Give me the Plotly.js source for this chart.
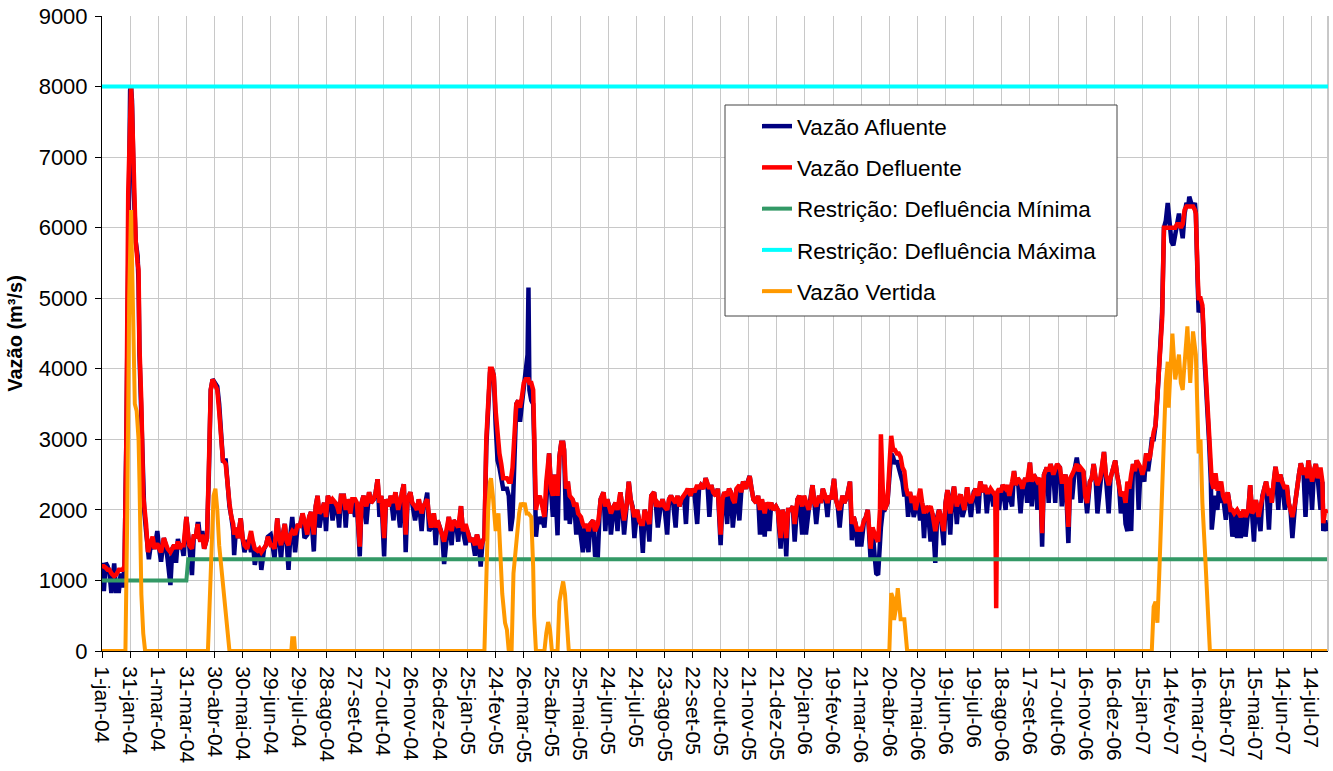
<!DOCTYPE html>
<html><head><meta charset="utf-8">
<script src="https://cdn.plot.ly/plotly-3.0.1.min.js"></script>
<style>html,body{margin:0;padding:0;background:#fff}#chart{width:1333px;height:771px}</style>
</head><body><div id="chart"></div>
<script>
// day offsets from 1-jan-2004
const days = [
0,2,4,6,8,10,13,15,18,20,
22,24,26,28,30,31,32,34,36,38,
39,40,42,44,45,47,49,50,52,54,
56,59,61,63,66,68,70,73,75,77,
79,81,83,85,87,90,93,96,98,100,
102,103,105,107,109,112,114,116,118,120,
123,125,127,129,132,134,136,138,140,141,
143,145,148,150,152,155,157,159,161,163,
166,168,170,173,175,177,180,182,184,187,
189,191,193,195,197,199,201,203,206,209,
211,214,216,219,221,223,226,228,230,232,
235,237,239,241,244,246,249,251,253,255,
258,260,262,265,267,270,272,275,277,279,
282,285,287,290,292,294,296,298,301,303,
306,308,311,313,316,318,320,322,324,326,
329,331,334,336,338,341,343,345,347,349,
351,354,356,358,361,363,365,368,370,373,
375,378,380,383,385,388,390,393,395,398,
400,402,404,406,408,410,412,414,416,418,
420,422,424,426,428,430,432,434,436,438,
440,442,444,446,448,450,452,454,455,456,
458,460,461,463,465,467,469,472,474,476,
477,479,481,483,486,488,490,492,493,495,
497,499,502,504,506,508,511,513,515,517,
519,521,524,526,529,531,532,535,537,539,
541,543,546,548,550,553,555,557,560,562,
564,566,568,571,573,575,577,579,582,584,
586,589,591,593,596,598,600,603,605,607,
609,612,614,616,618,621,623,625,628,630,
632,635,637,639,642,644,646,648,650,652,
655,657,660,662,664,667,669,671,673,675,
677,680,682,684,687,689,691,693,695,698,
700,702,704,707,709,712,714,716,719,721,
724,726,728,730,732,735,737,739,742,744,
747,749,751,754,756,758,760,762,765,767,
769,772,774,776,778,781,783,785,787,790,
792,795,798,800,802,804,806,808,810,813,
815,817,820,822,824,826,828,830,831,833,
835,838,840,842,844,846,848,850,852,854,
856,858,860,862,864,866,868,870,873,875,
877,879,881,884,886,889,891,893,895,898,
900,902,905,907,909,912,914,916,918,920,
923,925,927,930,932,935,937,940,942,944,
946,948,951,953,954,955,957,959,961,964,
966,968,971,973,975,977,980,982,985,987,
990,992,994,996,998,1001,1003,1005,1008,1010,
1012,1015,1017,1019,1022,1024,1026,1028,1031,1033,
1035,1038,1040,1042,1044,1047,1049,1051,1054,1056,
1058,1060,1062,1065,1067,1069,1071,1074,1076,1078,
1081,1083,1085,1087,1090,1092,1094,1096,1098,1100,
1102,1104,1106,1108,1110,1112,1114,1116,1118,1120,
1122,1124,1126,1128,1130,1131,1133,1135,1137,1139,
1141,1143,1145,1147,1149,1151,1153,1155,1157,1159,
1160,1162,1164,1166,1167,1169,1170,1172,1174,1176,
1177,1179,1181,1183,1184,1186,1188,1190,1192,1194,
1196,1199,1201,1204,1206,1208,1211,1213,1215,1218,
1220,1223,1225,1227,1229,1231,1234,1236,1238,1240,
1242,1245,1247,1248,1250,1252,1255,1257,1259,1262,
1264,1266,1268,1270,1273,1275,1277,1279,1282,1284,
1286,1287,1289,1291,1293,1295,1297,1300,1302,1303,
1305,1307];

const afluente = [
1250,850,1250,1200,1100,820,1240,850,850,1100,
900,1200,3000,6500,7950,8000,7800,6500,5800,5600,
5200,4200,3400,2300,2000,1700,1400,1300,1500,1500,
1450,1700,1450,1265,1600,1500,1300,935,1450,1500,
1250,1590,1450,1500,1350,1900,1500,1076,1650,1600,
1800,1800,1550,1700,1450,1600,2500,3700,3850,3800,
3750,3500,3100,2700,2700,2300,2050,1900,1700,1360,
1750,1600,1880,1600,1400,1550,1550,1400,1550,1220,
1420,1450,1150,1450,1500,1620,1650,1500,1300,1880,
1600,1300,1650,1800,1550,1150,1650,1900,1400,1800,
1750,1950,1600,1650,1900,1970,1410,2050,2200,1750,
2000,2100,1700,2200,2100,1850,2100,2050,1750,2200,
2200,1750,2150,1950,2150,1900,2100,1340,2100,2200,
1800,2250,2100,2150,2250,2435,1900,2200,1340,2150,
2050,2200,1850,2250,2000,1750,2250,2363,1400,2150,
2250,2100,1850,2000,2150,1700,2050,2100,2244,1700,
1750,1950,1500,1850,1700,1650,1232,1750,1900,1500,
1850,1800,1550,2054,1700,1500,1700,1550,1600,1350,
1650,1550,1198,1550,1600,2900,3500,3950,4000,3900,
3200,2700,2600,2450,2300,2300,2300,2200,1700,1900,
3000,3500,3550,3250,3500,3750,3850,4200,5150,3700,
3550,3500,3000,1620,1900,1800,1900,1750,2100,2600,
2800,2300,1900,2500,1640,2750,2950,2950,2850,1850,
2400,1800,2150,2050,1650,1950,1650,1400,1750,1500,
1400,1800,1850,1360,1350,2000,2150,2250,1700,2150,
2050,1650,2050,2100,1700,2250,2050,1650,2100,2400,
2150,2050,1600,2000,1850,1800,1390,2000,1850,1550,
2200,2250,2050,1750,2050,2150,2050,1650,2150,2200,
2150,1750,2200,2050,2150,2200,1800,2300,2200,2300,
2250,1800,2300,2350,2300,2450,2350,1900,2350,2250,
2200,2300,1500,2150,2250,1800,2300,2250,1750,2100,
2300,1850,2250,2400,2300,2400,2480,2300,2150,2100,
2200,1650,2150,1620,2100,1700,2100,2000,2050,2000,
1450,2000,1900,1340,2000,2000,2050,1550,2150,2200,
1650,2200,1650,2000,2150,2350,2100,1800,2200,2100,
2300,2150,1900,2200,2150,2440,2150,2050,1750,2200,
2100,2200,2400,1570,1900,1800,1480,1750,1480,1850,
1900,2000,1300,1750,1400,1100,1080,1700,1750,2000,
2000,2100,2400,2800,2750,2650,2700,2600,2550,2400,
2190,2300,1900,2250,2100,1900,2000,2150,1850,2100,
1600,2050,2000,1550,1950,1250,1900,2000,1900,1500,
2100,2280,1650,2200,2330,1800,2150,2220,1900,2000,
2320,2150,1900,2250,2300,1950,2400,2250,2350,1950,
2250,2300,2050,2200,2100,2250,2000,2250,2350,2000,
2350,2200,2050,2550,2350,2450,1950,2300,2450,2100,
2670,2050,2500,2450,2000,2450,1480,2500,2600,2100,
2650,2500,2100,2650,2600,2050,2400,2500,1530,2450,
2150,2600,2740,2550,2100,2550,2200,1950,2400,2450,
2650,2450,1950,2450,2600,2820,2500,1950,2450,2550,
2700,2500,2350,1950,2250,1800,1700,2300,1700,2650,
2550,2700,2000,2600,2500,2400,2800,2550,2750,3000,
3000,3200,3600,4000,4500,4800,6000,6100,6350,6000,
5800,5750,5950,6050,6200,5950,5850,6200,6350,6300,
6440,6350,6300,6350,6200,5200,4800,4900,4850,4200,
4000,3500,3000,2400,1720,2000,2200,2000,2400,2100,
2200,1860,2250,2000,1620,1950,1600,1950,1600,2000,
1620,2000,2350,1950,1550,2140,1900,1700,2200,2300,
2400,1720,2300,2100,2400,2610,2000,2500,2400,2000,
2350,2100,2000,1600,2100,2350,2500,2660,2500,1900,
2450,2700,2500,2000,2550,2650,2450,2000,2400,1700,
1850,1700];

const defluente = [
1200,1200,1180,1150,1150,1100,1060,1080,1150,1150,
1150,1200,3000,6500,7950,8000,7700,6400,5800,5500,
5400,4300,3500,2200,2100,1800,1400,1450,1550,1620,
1450,1525,1450,1400,1600,1500,1450,1400,1450,1500,
1450,1550,1450,1500,1500,1900,1500,1450,1650,1600,
1800,1650,1550,1650,1450,1600,2600,3700,3850,3800,
3700,3400,3130,2705,2650,2300,2090,1900,1800,1650,
1750,1600,1880,1600,1500,1450,1550,1700,1550,1450,
1420,1450,1400,1450,1500,1620,1500,1500,1450,1880,
1600,1500,1650,1800,1550,1500,1650,1700,1650,1800,
1750,1950,1850,1650,1900,1970,1650,2050,2200,1950,
2000,2100,1900,2200,2100,2150,2100,2050,1950,2200,
2200,2000,2150,1950,2150,2150,2100,1480,2100,2200,
2050,2250,2100,2150,2250,2435,2100,2200,1600,2150,
2050,2200,2100,2250,2000,2150,2250,2363,1650,2150,
2250,2100,2050,2000,2150,1950,2050,2100,2150,1900,
1750,1950,1750,1850,1700,1650,1550,1750,1900,1700,
1850,1800,1750,2054,1700,1800,1700,1550,1600,1500,
1650,1550,1450,1550,1600,3000,3600,4000,4000,3900,
3400,3000,2800,2650,2450,2450,2450,2400,2400,2600,
3000,3500,3550,3450,3600,3800,3850,3850,3850,3800,
3800,3700,3200,2000,2150,2200,2100,1900,2400,2710,
2800,2300,2200,2500,2200,2750,2950,2950,2850,2300,
2400,2200,2150,2050,2100,1950,1900,1800,1750,1800,
1700,1800,1850,1700,1800,2000,2150,2250,2050,2150,
2050,1950,2050,2100,2000,2250,2050,1850,2100,2400,
2150,2050,1900,2000,1850,1800,1800,2000,1850,1800,
2200,2250,2050,2100,2050,2150,2050,2000,2150,2200,
2150,2100,2200,2050,2150,2200,2250,2300,2200,2300,
2250,2350,2300,2350,2300,2450,2350,2300,2350,2250,
2200,2300,1650,2150,2250,2200,2300,2250,2150,2100,
2300,2350,2250,2400,2300,2400,2480,2300,2150,2100,
2200,2000,2150,1950,2100,2050,2100,2000,2050,2000,
1600,2000,1900,1600,2000,2000,2050,1800,2150,2200,
2050,2200,2100,2000,2150,2350,2100,2050,2200,2100,
2300,2150,2100,2200,2150,2440,2150,2050,2000,2200,
2100,2200,2400,1800,1900,1800,1700,1750,1700,1850,
1900,2000,1450,1750,1650,1600,1550,2000,3070,2300,
2000,2100,2600,3050,2850,2850,2800,2800,2750,2600,
2550,2300,2200,2250,2100,2200,2000,2150,2300,2100,
1950,2050,2000,2050,1950,1700,1900,2000,1900,1700,
2100,2280,1950,2200,2330,2050,2150,2220,2100,2000,
2320,2150,2100,2250,2300,2200,2400,2250,2350,2250,
2250,2300,2250,2200,605,2250,2300,2250,2350,2300,
2350,2200,2400,2550,2350,2450,2400,2300,2450,2400,
2670,2400,2500,2450,2400,2450,1670,2500,2600,2550,
2650,2500,2600,2650,2600,2400,2400,2500,1760,2450,
2500,2600,2650,2550,2600,2550,2200,2100,2400,2450,
2650,2450,2350,2450,2600,2820,2500,2350,2450,2550,
2700,2500,2350,2200,2250,2100,2400,2300,2500,2650,
2550,2700,2650,2600,2500,2600,2800,2700,2750,3000,
3100,3200,3600,4000,4500,4700,6000,6000,6000,6000,
6000,6000,6000,6050,6050,6000,6050,6250,6300,6300,
6300,6300,6300,6250,6200,5300,5000,5000,4900,4300,
4030,3500,3090,2600,2400,2300,2520,2300,2300,2400,
2200,2100,2250,2000,2000,1950,2000,1950,1900,2000,
1900,2000,2350,1950,2000,2140,1900,2050,2200,2300,
2400,2200,2300,2100,2400,2610,2400,2500,2400,2300,
2350,2100,2000,1900,2100,2350,2500,2660,2500,2600,
2450,2700,2500,2400,2550,2650,2450,2600,2400,1810,
2000,1950];

const vertidaDays = [
0,25,27,29,31,33,35,37,39,40,42,44,46,
113,115,117,119,121,123,125,127,129,131,133,134,136,
202,203,205,206,
408,410,412,414,415,417,420,423,425,427,430,432,434,
437,439,441,443,445,447,449,451,453,455,458,460,461,463,
472,474,476,478,480,
486,488,490,492,494,496,498,
840,842,844,845,847,849,851,852,856,859,
1120,1122,1124,1126,1128,1130,1131,1133,1135,1137,1138,1140,1142,1145,1147,1149,
1151,1153,1154,1156,1158,1161,1164,1167,1169,1170,1172,1174,1177,1179,1182,
1307];
const vertida = [
0,0,2000,5000,6250,5000,3500,3400,3000,2400,800,250,0,
0,800,1800,2200,2300,2000,1500,1200,900,720,300,150,0,
0,180,180,0,
0,1000,2000,2400,2450,2200,1700,1950,1400,815,400,300,0,
0,1100,1400,1800,1950,2100,2050,2100,1950,1950,1900,1200,500,0,
0,250,410,300,0,
0,700,850,985,800,300,0,
0,820,750,440,600,890,600,450,450,0,
0,630,700,400,1100,2000,2000,3000,3800,4100,3450,4000,4500,3850,4000,4200,
3800,3700,3900,4200,4600,3800,4530,4200,3230,2800,3000,2100,1340,870,0,
0];

const minDays = [0, 90, 92, 1307];
const minimo = [1000, 1000, 1300, 1300];
const maxDays = [0, 1308];
const maximo = [8000, 8000];

const tickLabels = ['1-jan-04','31-jan-04','1-mar-04','31-mar-04','30-abr-04','30-mai-04','29-jun-04','29-jul-04',
'28-ago-04','27-set-04','27-out-04','26-nov-04','26-dez-04','25-jan-05','24-fev-05','26-mar-05','25-abr-05',
'25-mai-05','24-jun-05','24-jul-05','23-ago-05','22-set-05','22-out-05','21-nov-05','21-dez-05','20-jan-06',
'19-fev-06','21-mar-06','20-abr-06','20-mai-06','19-jun-06','19-jul-06','18-ago-06','17-set-06','17-out-06',
'16-nov-06','16-dez-06','15-jan-07','14-fev-07','16-mar-07','15-abr-07','15-mai-07','14-jun-07','14-jul-07'];
const yTicks = [0,1000,2000,3000,4000,5000,6000,7000,8000,9000];
const seriesNames = ['Vazão Afluente','Vazão Defluente','Restrição: Defluência Mínima','Restrição: Defluência Máxima','Vazão Vertida'];
const seriesColors = ['#000080','#FF0000','#339966','#00FFFF','#FF9900'];

if (days.length !== afluente.length || days.length !== defluente.length || vertidaDays.length !== vertida.length) {
  throw new Error('length mismatch ' + days.length + ' ' + afluente.length + ' ' + defluente.length + ' ' + vertidaDays.length + ' ' + vertida.length);
}

function toDate(d) {
  return new Date(Date.UTC(2004, 0, 1) + d * 86400000).toISOString().slice(0, 10);
}
const tickVals = tickLabels.map((_, i) => toDate(i * 30));

const FONT = 'Arial, "Liberation Sans", sans-serif';
const xs = [days, days, minDays, maxDays, vertidaDays];
const ys = [afluente, defluente, minimo, maximo, vertida];
const widths = [4.5, 4.5, 4, 4, 4];

const traces = seriesNames.map((name, i) => ({
  type: 'scatter', mode: 'lines', name: name,
  x: xs[i].map(toDate), y: ys[i],
  line: {color: seriesColors[i], width: widths[i]},
  legendgroup: 'g' + i, cliponaxis: false, hoverinfo: 'skip'
}));

const W = 1333, H = 771, L = 102, R = 5, T = 16, B = 120;
const pw = W - L - R, ph = H - T - B;
const px = x => (x - L) / pw;
const py = y => (H - B - y) / ph;

const layout = {
  width: W, height: H,
  margin: {l: L, r: R, t: T, b: B, pad: 0},
  paper_bgcolor: '#ffffff', plot_bgcolor: '#ffffff',
  font: {family: FONT, color: '#000000', size: 21},
  showlegend: true,
  xaxis: {
    type: 'date', range: [toDate(0), toDate(1308)],
    tickmode: 'array', tickvals: tickVals, ticktext: tickLabels,
    tickangle: 90, ticks: 'outside', ticklen: 6, tickcolor: '#000', tickwidth: 1,
    ticklabelstandoff: 4,
    tickfont: {family: FONT, size: 21, color: '#000'},
    showgrid: true, gridcolor: '#c8c8c8', gridwidth: 1,
    showline: true, linecolor: '#000', linewidth: 1, zeroline: false, fixedrange: true
  },
  yaxis: {
    range: [0, 9000], tickmode: 'array', tickvals: yTicks, ticktext: yTicks.map(String),
    ticks: 'outside', ticklen: 6, tickcolor: '#000', tickwidth: 1,
    ticklabelstandoff: 3,
    tickfont: {family: FONT, size: 22, color: '#000'},
    showgrid: true, gridcolor: '#c8c8c8', gridwidth: 1,
    showline: true, linecolor: '#000', linewidth: 1, zeroline: false, fixedrange: true,
    title: {text: 'Vazão (m³/s)', font: {family: FONT, size: 20, weight: 'bold', color: '#000'}, standoff: 10}
  },
  legend: {
    x: px(757), y: py(105), xanchor: 'left', yanchor: 'top',
    bgcolor: 'rgba(0,0,0,0)', borderwidth: 0,
    font: {family: FONT, size: 22.5, color: '#000'},
    traceorder: 'grouped', tracegroupgap: 9, itemclick: false, itemdoubleclick: false
  },
  shapes: [{
    type: 'rect', xref: 'paper', yref: 'paper', layer: 'above',
    x0: px(725), x1: px(1117), y0: py(316), y1: py(105),
    fillcolor: '#ffffff', line: {color: '#444444', width: 1}
  }, {
    type: 'line', xref: 'paper', yref: 'paper', layer: 'below',
    x0: 1, x1: 1, y0: 0, y1: 1, line: {color: '#909090', width: 1}
  }]
};

Plotly.newPlot('chart', traces, layout, {displayModeBar: false, staticPlot: true});
</script>
</body></html>
